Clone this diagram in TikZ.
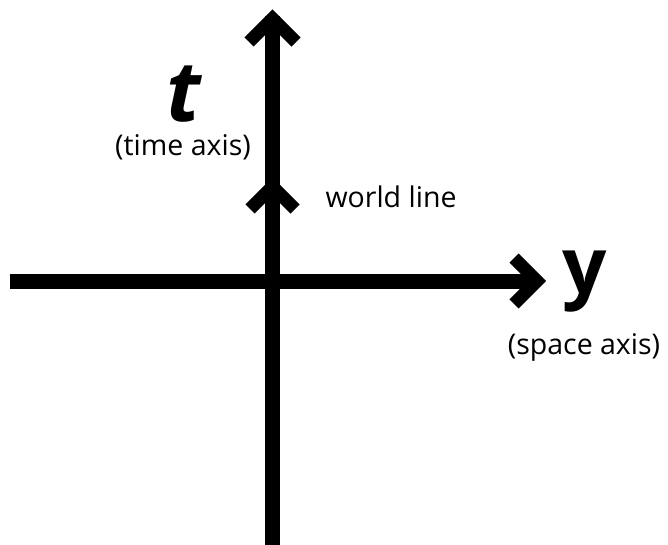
\documentclass[tikz,border=0pt]{standalone}
\usepackage{fontspec}
\setmainfont{Open Sans}
\begin{document}
\begin{tikzpicture}[x=1pt,y=-1pt,
  shaft/.style={line width=15pt},
  chev/.style={line width=13pt,miter limit=10},
  lbl/.style={inner sep=0pt,font=\fontsize{28.5}{32}\selectfont}]
\useasboundingbox (0,0) rectangle (668,545);
\coordinate (vb) at (272.5,545);
\coordinate (vt) at (272.5,16);
\coordinate (hl) at (10,281);
\coordinate (hr) at (536,281);
\draw[shaft] (vb) -- (vt);
\draw[shaft] (hl) -- (hr);
\draw[chev] (249,42) -- (272.5,18.5) -- (296,42);
\draw[chev] (250,209) -- (272.5,186.5) -- (295,209);
\draw[chev] (514,258) -- (537,281) -- (514,304);
\node[inner sep=0pt,font=\fontsize{84}{86}\selectfont\bfseries\itshape] (t) at (184,94) {t};
\node[lbl] (ta) at (183,147) {(time axis)};
\node[lbl] (wl) at (391,197) {world line};
\node[inner sep=0pt,font=\fontsize{78}{80}\selectfont\bfseries] (y) at (585,282) {y};
\node[lbl] (sa) at (584,347) {(space axis)};
\end{tikzpicture}
\end{document}
